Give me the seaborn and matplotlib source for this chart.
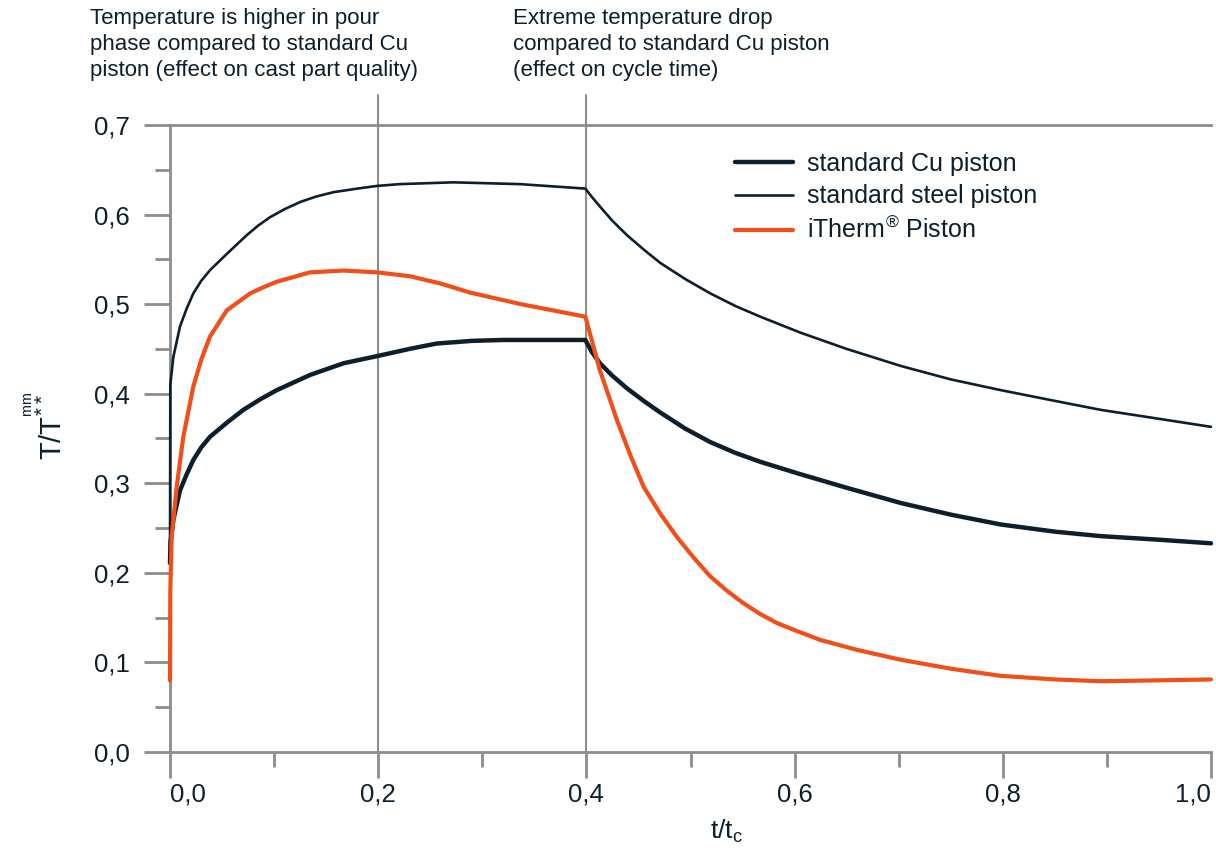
import matplotlib
matplotlib.use("Agg")
import matplotlib.pyplot as plt
from matplotlib.ticker import MultipleLocator, FixedLocator
import seaborn as sns
import pandas as pd

# values (t/tc vs T/T)
x_cu = [0, 0.0005, 0.0032, 0.0096, 0.016, 0.0224, 0.03, 0.0385, 0.055, 0.0705,
        0.087, 0.1026, 0.1346, 0.1667, 0.199, 0.23, 0.256, 0.29, 0.32, 0.399,
        0.405, 0.413, 0.425, 0.439, 0.455, 0.471, 0.495, 0.519, 0.543, 0.567,
        0.606, 0.65, 0.702, 0.75, 0.798, 0.85, 0.894, 0.95, 1.0]
y_cu = [0.211, 0.235, 0.259, 0.292, 0.31, 0.326, 0.34, 0.352, 0.368, 0.382,
        0.394, 0.404, 0.421, 0.434, 0.442, 0.45, 0.456, 0.459, 0.46, 0.46,
        0.447, 0.434, 0.42, 0.406, 0.392, 0.379, 0.361, 0.346, 0.334, 0.324,
        0.310, 0.295, 0.278, 0.265, 0.254, 0.246, 0.241, 0.237, 0.233]

x_steel = [0, 0.0003, 0.0032, 0.0096, 0.016, 0.0224, 0.03, 0.0385, 0.0545, 0.0737,
           0.085, 0.096, 0.11, 0.125, 0.14, 0.157, 0.18, 0.199, 0.221, 0.272,
           0.336, 0.399, 0.405, 0.413, 0.425, 0.439, 0.455, 0.471, 0.495, 0.519,
           0.543, 0.567, 0.606, 0.65, 0.702, 0.75, 0.798, 0.85, 0.894, 0.95, 1.0]
y_steel = [0.211, 0.41, 0.441, 0.475, 0.495, 0.512, 0.526, 0.538, 0.556, 0.577,
           0.588, 0.597, 0.606, 0.614, 0.62, 0.625, 0.629, 0.632, 0.634, 0.636,
           0.634, 0.629, 0.62, 0.609, 0.593, 0.577, 0.561, 0.546, 0.528, 0.512,
           0.498, 0.486, 0.468, 0.45, 0.431, 0.416, 0.404, 0.392, 0.382, 0.372, 0.363]

x_itherm = [0, 0.0003, 0.0016, 0.0064, 0.0128, 0.0224, 0.03, 0.0385, 0.0545, 0.077,
            0.09, 0.1026, 0.1346, 0.1667, 0.199, 0.231, 0.26, 0.288, 0.337, 0.399,
            0.413, 0.4295, 0.442, 0.455, 0.471, 0.487, 0.503, 0.519, 0.535, 0.551,
            0.567, 0.583, 0.6, 0.625, 0.66, 0.702, 0.75, 0.798, 0.85, 0.894, 0.95, 1.0]
y_itherm = [0.08, 0.18, 0.24, 0.296, 0.352, 0.408, 0.438, 0.464, 0.493, 0.512,
            0.519, 0.525, 0.5355, 0.5375, 0.5355, 0.531, 0.523, 0.513, 0.5, 0.486,
            0.426, 0.37, 0.332, 0.296, 0.266, 0.24, 0.217, 0.196, 0.18, 0.166,
            0.154, 0.144, 0.136, 0.125, 0.114, 0.103, 0.093, 0.085, 0.081, 0.079, 0.08, 0.081]

labels = ["standard Cu piston", "standard steel piston", r"iTherm$^{\circledR}$ Piston"]
x_ticks = [0.0, 0.2, 0.4, 0.6, 0.8, 1.0]
x_tick_labels = ["0,0", "0,2", "0,4", "0,6", "0,8", "1,0"]
y_ticks = [0.0, 0.1, 0.2, 0.3, 0.4, 0.5, 0.6, 0.7]
y_tick_labels = ["0,0", "0,1", "0,2", "0,3", "0,4", "0,5", "0,6", "0,7"]
note_left = "Temperature is higher in pour\nphase compared to standard Cu\npiston (effect on cast part quality)"
note_right = "Extreme temperature drop\ncompared to standard Cu piston\n(effect on cycle time)"

navy = "#0d1f2c"
orange = "#f24e1a"
gray = "#8c8c8c"

sns.set_style("white")
plt.rcParams["font.family"] = ["Liberation Sans", "DejaVu Sans"]
plt.rcParams["mathtext.fontset"] = "custom"
plt.rcParams["mathtext.rm"] = "Liberation Sans"
plt.rcParams["mathtext.it"] = "Liberation Sans"

fig = plt.figure(figsize=(12.16, 8.51), dpi=100)
ax = fig.add_axes([170 / 1216, 1 - 752 / 851, 1041 / 1216, 627 / 851])

cu = pd.DataFrame({"x": x_cu, "y": y_cu})
steel = pd.DataFrame({"x": x_steel, "y": y_steel})
itherm = pd.DataFrame({"x": x_itherm, "y": y_itherm})

sns.lineplot(data=cu, x="x", y="y", ax=ax, color=navy, linewidth=3.2, label=labels[0], errorbar=None)
sns.lineplot(data=steel, x="x", y="y", ax=ax, color=navy, linewidth=1.9, label=labels[1], errorbar=None)
sns.lineplot(data=itherm, x="x", y="y", ax=ax, color=orange, linewidth=3.0, label=labels[2], errorbar=None)
for ln in ax.lines:
    ln.set_clip_on(False)
    ln.set_zorder(4)
    ln.set_solid_joinstyle("round")

ax.set_xlim(0, 1.0)
ax.set_ylim(0, 0.7)

# vertical phase markers reaching above the plot
for xv in [0.2, 0.4]:
    ax.axvline(xv, ymin=0, ymax=(752 - 95) / 627, color=gray, linewidth=1.5, clip_on=False, zorder=1)

for side in ["left", "bottom", "top"]:
    ax.spines[side].set_color(gray)
    ax.spines[side].set_linewidth(2.0)
ax.spines["right"].set_visible(False)

ax.xaxis.set_major_locator(FixedLocator(x_ticks))
ax.xaxis.set_minor_locator(MultipleLocator(0.1))
ax.yaxis.set_major_locator(FixedLocator(y_ticks))
ax.yaxis.set_minor_locator(MultipleLocator(0.05))
ax.set_xticklabels(x_tick_labels)
ax.set_yticklabels(y_tick_labels)
ax.tick_params(axis="both", which="major", direction="out", length=19, width=2.0,
               color=gray, labelsize=18.5, labelcolor=navy)
ax.tick_params(axis="both", which="minor", direction="out", length=11, width=2.0, color=gray)
ax.tick_params(axis="x", which="major", pad=3, bottom=True)
ax.tick_params(axis="x", which="minor", bottom=True)
ax.tick_params(axis="y", which="both", left=True)
ax.tick_params(axis="y", which="major", pad=10)
xl = ax.get_xticklabels()
xl[0].set_ha("left")
xl[-1].set_ha("right")

ax.set_xlabel(r"t/t$_\mathrm{c}$", fontsize=19, color=navy)
ax.xaxis.set_label_coords(0.535, -0.105)
ax.set_ylabel(r"T/T$^{\overset{\mathrm{mm}}{**}}$", fontsize=21, color=navy)
ax.yaxis.set_label_coords(-0.098, 0.52)

leg = ax.legend(loc="upper left", bbox_to_anchor=(0.543, 0.957), frameon=False, fontsize=18,
                handlelength=2.3, handletextpad=0.55, labelspacing=0.34, borderaxespad=0, borderpad=0)
for t in leg.get_texts():
    t.set_color(navy)

fig.text(90 / 1216, 1 - 8 / 851, note_left, ha="left", va="top", fontsize=16, color=navy, linespacing=1.3)
fig.text(513 / 1216, 1 - 8 / 851, note_right, ha="left", va="top", fontsize=16, color=navy, linespacing=1.3)

fig.savefig("out.png", dpi=100)
